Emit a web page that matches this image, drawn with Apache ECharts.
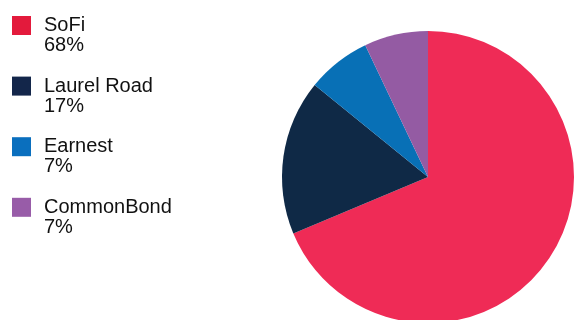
<!DOCTYPE html>
<html><head><meta charset="utf-8">
<script src="https://cdn.jsdelivr.net/npm/echarts@6/dist/echarts.min.js"></script>
<style>html,body{margin:0;padding:0;background:#fff}#c{width:574px;height:320px}</style>
</head><body><div id="c"></div>
<script>
var categories = ['SoFi', 'Laurel Road', 'Earnest', 'CommonBond'];
var values = [68, 17, 7, 7];
var pieColors = ['#EF2B56', '#0F2946', '#0870B6', '#945BA3'];
var legendColors = ['#E31A3C', '#13264A', '#0A6FBE', '#985CA8'];

var chart = echarts.init(document.getElementById('c'), null, {renderer: 'canvas'});
chart.setOption({
  animation: false,
  backgroundColor: '#fff',
  legend: {
    orient: 'vertical',
    left: 12,
    top: -4.5,
    padding: 0,
    itemWidth: 19,
    itemHeight: 19,
    itemGap: 0.6,
    icon: 'rect',
    selectedMode: false,
    data: categories.map(function (n, i) {
      return {name: n, itemStyle: {color: legendColors[i]}};
    }),
    formatter: function (name) {
      var i = categories.indexOf(name);
      return ' \n' + name + '\n' + values[i] + '%';
    },
    textStyle: {
      fontFamily: 'Liberation Sans, Arial, sans-serif',
      fontSize: 20,
      lineHeight: 20,
      color: '#111',
      padding: [0, 0, 0, 8]
    }
  },
  series: [{
    type: 'pie',
    center: [428, 177],
    radius: 146,
    startAngle: 90,
    clockwise: true,
    label: {show: false},
    labelLine: {show: false},
    emphasis: {disabled: true},
    itemStyle: {borderWidth: 0},
    data: categories.map(function (n, i) {
      return {name: n, value: values[i], itemStyle: {color: pieColors[i]}};
    })
  }]
});
</script>
</body></html>
